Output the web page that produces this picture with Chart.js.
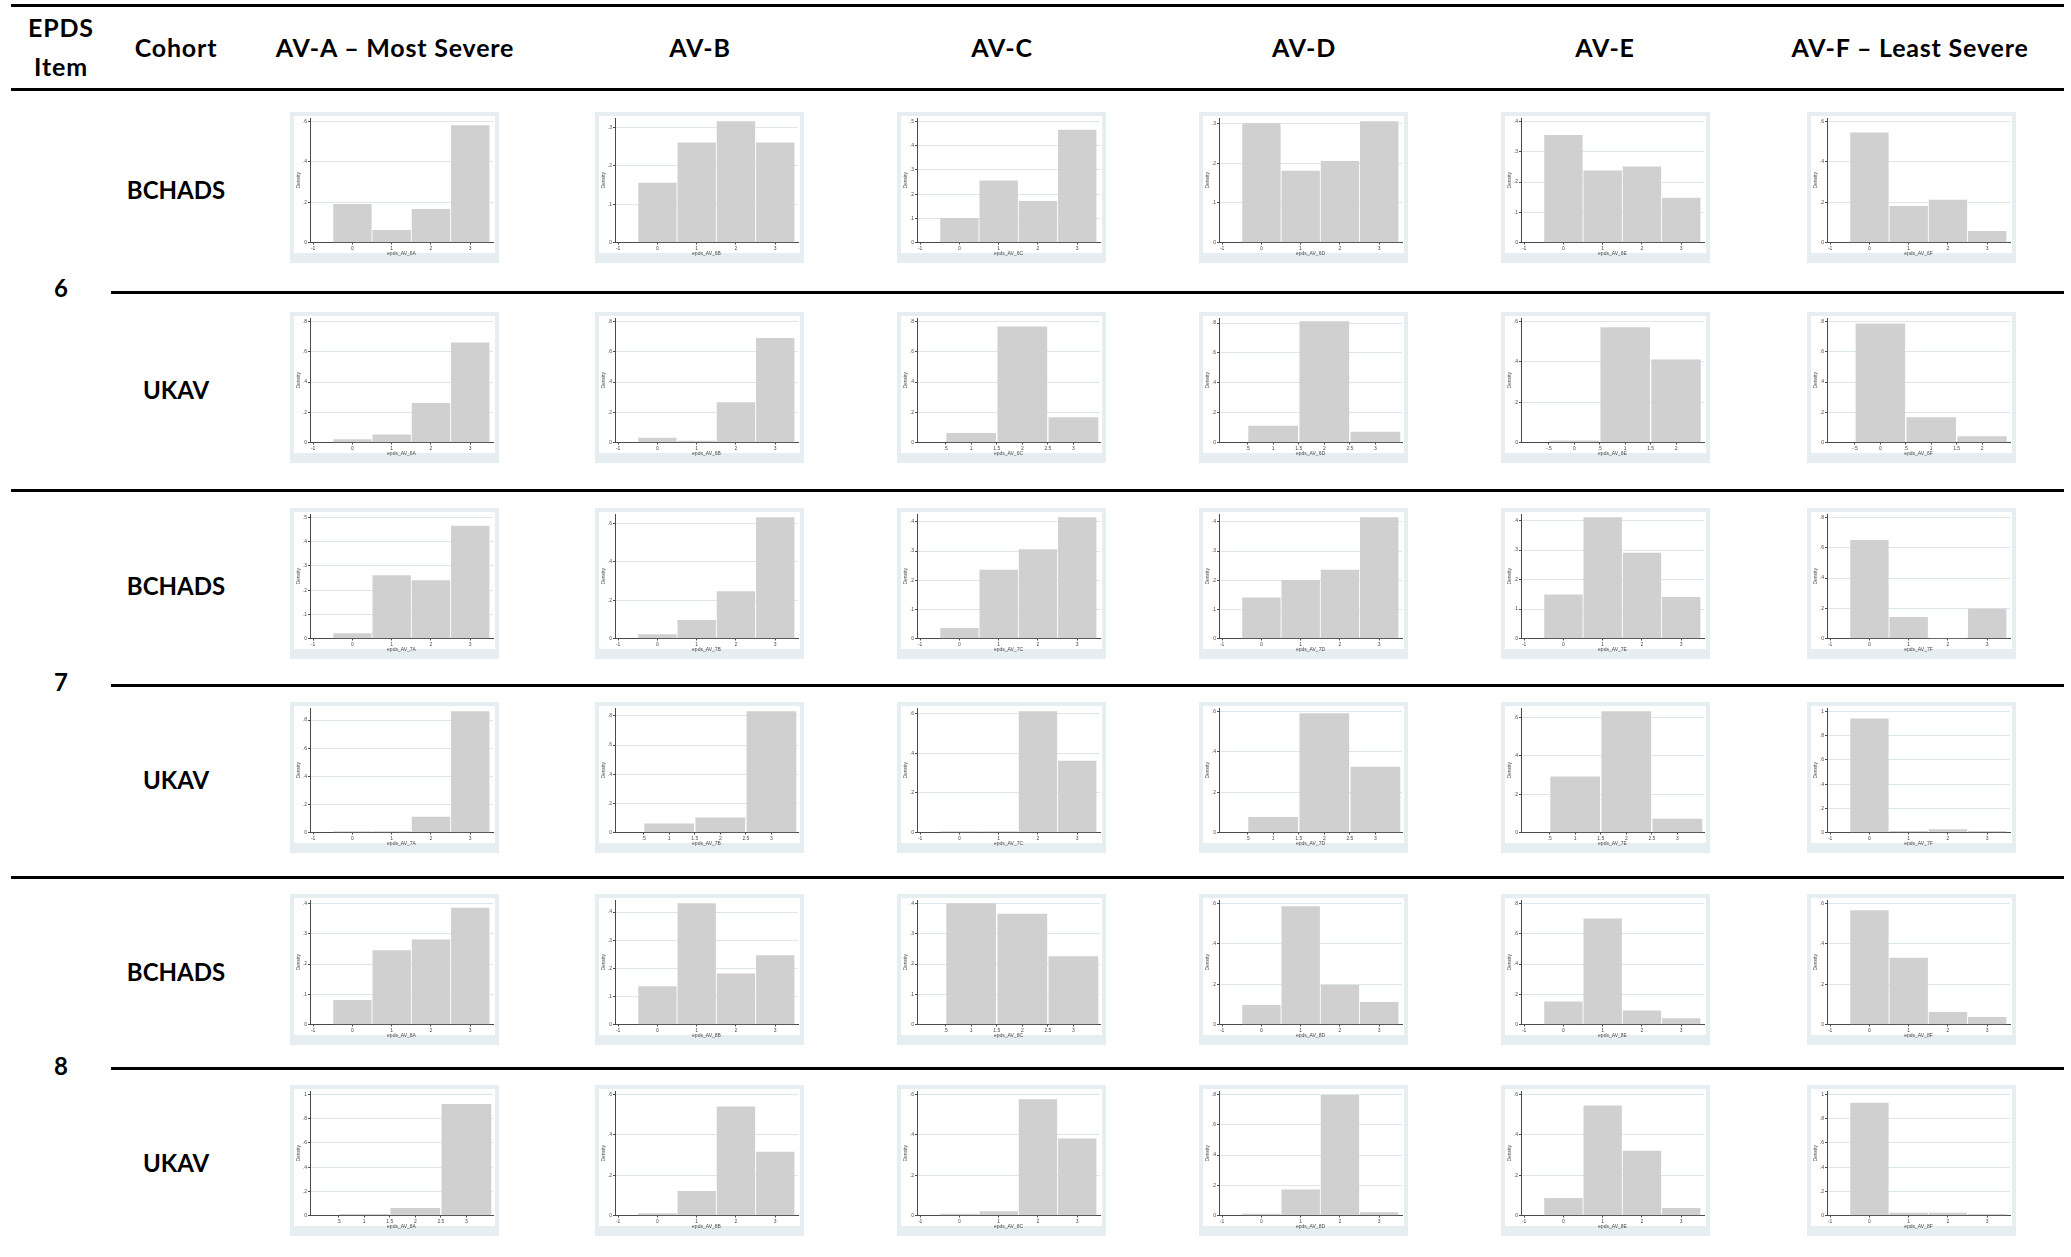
<!DOCTYPE html>
<html>
<head>
<meta charset="utf-8">
<title>EPDS items 6–8 by AV class</title>
<script src="https://cdn.jsdelivr.net/npm/chart.js@4.4.1/dist/chart.umd.min.js"></script>
<style>
  html, body { margin: 0; padding: 0; background: #fff; }
  #page { position: relative; width: 2071px; height: 1257px; overflow: hidden;
          font-family: Lato, 'Noto Sans', sans-serif; font-weight: 700; color: #000; }
  .rule { position: absolute; background: #000; height: 3px; }
  .lbl { position: absolute; transform: translate(-50%, -50%); font-size: 24px;
         line-height: 1; white-space: nowrap; }
  .lbl.head { font-size: 25px; letter-spacing: 0.8px; }
  .panel { position: absolute; width: 209px; height: 151px; }
  .panel canvas { display: block; }
</style>
</head>
<body>
<div id="page"></div>
<script>
// ---- Table headings ----
const groups = ['AV-A \u2013 Most Severe', 'AV-B', 'AV-C', 'AV-D', 'AV-E', 'AV-F \u2013 Least Severe'];
const groupCodes = ['A', 'B', 'C', 'D', 'E', 'F'];
const items = ['6', '7', '8'];
const cohorts = ['BCHADS', 'UKAV'];

// ---- Histogram bins (item score) and x-axis tick labels, one set per axis layout ----
const binsA = [0, 1, 2, 3];
const binsB = [1, 2, 3];
const binsC = [0, 1, 2];
const xTicksA = [-1, 0, 1, 2, 3];
const xTicksB = [0.5, 1, 1.5, 2, 2.5, 3];
const xTicksC = [-0.5, 0, 0.5, 1, 1.5, 2];

// ---- Densities per bin, one list per AV group (A..F) ----
const item6Bchads = [
  [0.19, 0.06, 0.165, 0.58],
  [0.155, 0.26, 0.315, 0.26],
  [0.10, 0.255, 0.17, 0.465],
  [0.30, 0.18, 0.205, 0.305],
  [0.355, 0.237, 0.25, 0.147],
  [0.545, 0.18, 0.21, 0.055]
];
const item6BchadsAxes = ['A', 'A', 'A', 'A', 'A', 'A'];
const item6BchadsY = [
  [0, 0.2, 0.4, 0.6], [0, 0.1, 0.2, 0.3], [0, 0.1, 0.2, 0.3, 0.4, 0.5],
  [0, 0.1, 0.2, 0.3], [0, 0.1, 0.2, 0.3, 0.4], [0, 0.2, 0.4, 0.6]
];

const item6Ukav = [
  [0.02, 0.05, 0.26, 0.66],
  [0.03, 0.01, 0.265, 0.69],
  [0.06, 0.765, 0.165],
  [0.11, 0.81, 0.07],
  [0.008, 0.57, 0.41],
  [0.785, 0.165, 0.04]
];
const item6UkavAxes = ['A', 'A', 'B', 'B', 'C', 'C'];
const item6UkavY = [
  [0, 0.2, 0.4, 0.6, 0.8], [0, 0.2, 0.4, 0.6, 0.8], [0, 0.2, 0.4, 0.6, 0.8],
  [0, 0.2, 0.4, 0.6, 0.8], [0, 0.2, 0.4, 0.6], [0, 0.2, 0.4, 0.6, 0.8]
];

const item7Bchads = [
  [0.02, 0.26, 0.24, 0.465],
  [0.02, 0.095, 0.245, 0.63],
  [0.035, 0.235, 0.305, 0.415],
  [0.14, 0.20, 0.235, 0.415],
  [0.148, 0.41, 0.29, 0.14],
  [0.65, 0.14, 0, 0.195]
];
const item7BchadsAxes = ['A', 'A', 'A', 'A', 'A', 'A'];
const item7BchadsY = [
  [0, 0.1, 0.2, 0.3, 0.4, 0.5], [0, 0.2, 0.4, 0.6], [0, 0.1, 0.2, 0.3, 0.4],
  [0, 0.1, 0.2, 0.3, 0.4], [0, 0.1, 0.2, 0.3, 0.4], [0, 0.2, 0.4, 0.6, 0.8]
];

const item7Ukav = [
  [0.007, 0.007, 0.11, 0.86],
  [0.06, 0.10, 0.83],
  [0.005, 0.005, 0.61, 0.36],
  [0.075, 0.59, 0.325],
  [0.29, 0.63, 0.07],
  [0.94, 0.01, 0.025, 0.01]
];
const item7UkavAxes = ['A', 'B', 'A', 'B', 'B', 'A'];
const item7UkavY = [
  [0, 0.2, 0.4, 0.6, 0.8], [0, 0.2, 0.4, 0.6, 0.8], [0, 0.2, 0.4, 0.6],
  [0, 0.2, 0.4, 0.6], [0, 0.2, 0.4, 0.6], [0, 0.2, 0.4, 0.6, 0.8, 1]
];

const item8Bchads = [
  [0.08, 0.245, 0.28, 0.385],
  [0.135, 0.43, 0.18, 0.245],
  [0.40, 0.365, 0.225],
  [0.095, 0.585, 0.195, 0.11],
  [0.15, 0.70, 0.09, 0.04],
  [0.565, 0.33, 0.06, 0.035]
];
const item8BchadsAxes = ['A', 'A', 'B', 'A', 'A', 'A'];
const item8BchadsY = [
  [0, 0.1, 0.2, 0.3, 0.4], [0, 0.1, 0.2, 0.3, 0.4], [0, 0.1, 0.2, 0.3, 0.4],
  [0, 0.2, 0.4, 0.6], [0, 0.2, 0.4, 0.6, 0.8], [0, 0.2, 0.4, 0.6]
];

const item8Ukav = [
  [0.01, 0.06, 0.92],
  [0.01, 0.12, 0.54, 0.315],
  [0.007, 0.02, 0.575, 0.38],
  [0.01, 0.17, 0.795, 0.02],
  [0.085, 0.545, 0.32, 0.035],
  [0.93, 0.02, 0.02, 0.01]
];
const item8UkavAxes = ['B', 'A', 'A', 'A', 'A', 'A'];
const item8UkavY = [
  [0, 0.2, 0.4, 0.6, 0.8, 1], [0, 0.2, 0.4, 0.6], [0, 0.2, 0.4, 0.6],
  [0, 0.2, 0.4, 0.6, 0.8], [0, 0.2, 0.4, 0.6], [0, 0.2, 0.4, 0.6, 0.8, 1]
];

// ---- Assembly ----
const axisSetup = {
  A: { bins: binsA, ticks: xTicksA, min: -1.08, max: 3.58 },
  B: { bins: binsB, ticks: xTicksB, min: -0.06, max: 3.52 },
  C: { bins: binsC, ticks: xTicksC, min: -1.05, max: 2.55 }
};

const rows = [
  { item: items[0], cohort: cohorts[0], values: item6Bchads, axes: item6BchadsAxes, yTicks: item6BchadsY },
  { item: items[0], cohort: cohorts[1], values: item6Ukav,   axes: item6UkavAxes,   yTicks: item6UkavY },
  { item: items[1], cohort: cohorts[0], values: item7Bchads, axes: item7BchadsAxes, yTicks: item7BchadsY },
  { item: items[1], cohort: cohorts[1], values: item7Ukav,   axes: item7UkavAxes,   yTicks: item7UkavY },
  { item: items[2], cohort: cohorts[0], values: item8Bchads, axes: item8BchadsAxes, yTicks: item8BchadsY },
  { item: items[2], cohort: cohorts[1], values: item8Ukav,   axes: item8UkavAxes,   yTicks: item8UkavY }
];

// Page geometry
const colLeft = [290, 595, 897, 1199, 1501, 1807];
const rowTop = [112, 312, 508, 702, 894, 1085];
const headerX = [395, 700, 1002, 1304, 1605, 1910];
const itemY = [288, 682, 1066];
const PANEL_W = 209, PANEL_H = 151;
const PLOT_LEFT = 20, PLOT_RIGHT = 203, PLOT_TOP = 6, PLOT_BOTTOM = 130.5;

const page = document.getElementById('page');

function addRule(x1, x2, y) {
  const d = document.createElement('div');
  d.className = 'rule';
  d.style.left = x1 + 'px';
  d.style.width = (x2 - x1) + 'px';
  d.style.top = y + 'px';
  page.appendChild(d);
}
function addLabel(text, cx, cy, cls) {
  const d = document.createElement('div');
  d.className = 'lbl' + (cls ? ' ' + cls : '');
  d.textContent = text;
  d.style.left = cx + 'px';
  d.style.top = cy + 'px';
  page.appendChild(d);
}

// Horizontal rules of the table
addRule(11, 2064, 4);
addRule(11, 2064, 88);
addRule(11, 2064, 489);
addRule(11, 2064, 876);
addRule(111, 2064, 291);
addRule(111, 2064, 684);
addRule(111, 2064, 1067);

// Header row
addLabel('EPDS', 61, 27, 'head');
addLabel('Item', 61, 66, 'head');
addLabel('Cohort', 176, 47, 'head');
groups.forEach((g, i) => addLabel(g, headerX[i], 47, 'head'));

// Item numbers and cohort names
items.forEach((it, i) => addLabel(it, 61, itemY[i]));
rows.forEach((r, i) => addLabel(r.cohort, 176, rowTop[i] + PANEL_H / 2 + 2));

// Stata-style graph region: bluish-grey frame with a white inner region
const panelBackground = {
  id: 'panelBackground',
  beforeDraw(chart) {
    const { ctx, width, height } = chart;
    ctx.save();
    ctx.fillStyle = '#e6eef1';
    ctx.fillRect(0, 0, width, height);
    ctx.fillStyle = '#ffffff';
    ctx.fillRect(4, 4, width - 8, height - 14);
    ctx.restore();
  }
};

function fmt(v) {
  if (v === 0) return '0';
  return String(+v.toFixed(2)).replace(/^(-?)0\./, '$1.');
}

const tinyFont = { size: 5, family: "'Liberation Sans', sans-serif" };
const inkColor = '#4a4a4a';

rows.forEach((r, ri) => {
  r.values.forEach((vals, ci) => {
    const setup = axisSetup[r.axes[ci]];
    const yTicks = r.yTicks[ci];
    const yMax = Math.max(yTicks[yTicks.length - 1], Math.max(...vals)) * 1.03;
    const pxPerUnit = (PLOT_RIGHT - PLOT_LEFT) / (setup.max - setup.min);

    const holder = document.createElement('div');
    holder.className = 'panel';
    holder.style.left = colLeft[ci] + 'px';
    holder.style.top = rowTop[ri] + 'px';
    const canvas = document.createElement('canvas');
    canvas.width = PANEL_W;
    canvas.height = PANEL_H;
    holder.appendChild(canvas);
    page.appendChild(holder);

    new Chart(canvas, {
      type: 'bar',
      data: {
        datasets: [{
          data: setup.bins.map((b, k) => ({ x: b, y: vals[k] })),
          backgroundColor: '#d0d0d0',
          borderWidth: 0,
          barThickness: pxPerUnit * 0.96
        }]
      },
      options: {
        responsive: false,
        animation: false,
        devicePixelRatio: 1,
        layout: { padding: { left: 4, top: PLOT_TOP, right: PANEL_W - PLOT_RIGHT, bottom: 0 } },
        plugins: { legend: { display: false }, tooltip: { enabled: false } },
        scales: {
          x: {
            type: 'linear',
            min: setup.min,
            max: setup.max,
            offset: false,
            afterBuildTicks: s => { s.ticks = setup.ticks.map(v => ({ value: v })); },
            afterFit: s => { s.height = PANEL_H - PLOT_BOTTOM; },
            grid: { display: true, drawOnChartArea: false, drawTicks: true, tickLength: 2,
                    color: inkColor, offset: false },
            border: { display: true, color: inkColor, width: 1 },
            ticks: { font: tinyFont, color: inkColor, padding: 1, maxRotation: 0, minRotation: 0,
                     autoSkip: false, callback: v => fmt(v) },
            title: { display: true, text: 'epds_AV_' + r.item + groupCodes[ci], font: tinyFont,
                     color: inkColor, padding: { top: 0, bottom: 6 } }
          },
          y: {
            min: 0,
            max: yMax,
            afterBuildTicks: s => { s.ticks = yTicks.map(v => ({ value: v })); },
            afterFit: s => { s.width = PLOT_LEFT - 4; },
            grid: { color: '#dde6ea', tickColor: inkColor, tickLength: 2, drawTicks: true },
            border: { display: true, color: inkColor, width: 1 },
            ticks: { font: tinyFont, color: inkColor, padding: 1, autoSkip: false, callback: v => fmt(v) },
            title: { display: true, text: 'Density', font: tinyFont, color: inkColor,
                     padding: { top: 2, bottom: 0 } }
          }
        }
      },
      plugins: [panelBackground]
    });
  });
});
</script>
</body>
</html>
